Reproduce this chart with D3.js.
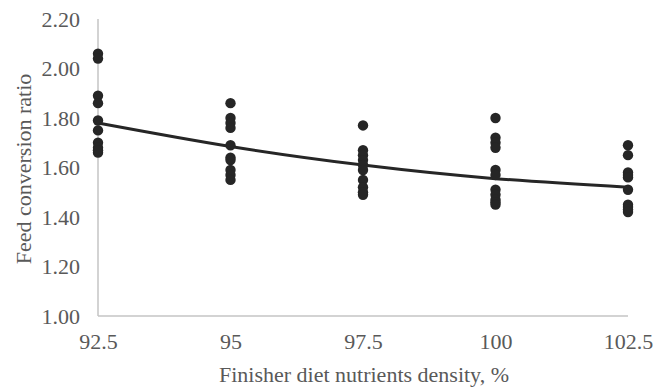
<!DOCTYPE html>
<html>
<head>
<meta charset="utf-8">
<script src="https://cdn.jsdelivr.net/npm/d3@7/dist/d3.min.js"></script>
</head>
<body style="margin:0; background:#fff">
<svg id="chart" width="656" height="389"></svg>
<script>
// data
var xTicks = [92.5, 95, 97.5, 100, 102.5];
var yTicks = [1.0, 1.2, 1.4, 1.6, 1.8, 2.0, 2.2];
var fcr925 = [2.06, 2.04, 1.89, 1.86, 1.79, 1.75, 1.70, 1.68, 1.66, 1.67];
var fcr95 = [1.86, 1.80, 1.78, 1.76, 1.69, 1.64, 1.63, 1.59, 1.57, 1.55];
var fcr975 = [1.77, 1.67, 1.65, 1.63, 1.61, 1.59, 1.55, 1.52, 1.50, 1.49];
var fcr100 = [1.80, 1.72, 1.70, 1.68, 1.59, 1.57, 1.51, 1.49, 1.47, 1.46, 1.45];
var fcr1025 = [1.69, 1.65, 1.58, 1.57, 1.56, 1.51, 1.45, 1.44, 1.43, 1.42];
var trend = [1.78, 1.685, 1.61, 1.555, 1.52];

var svg = d3.select("#chart");
var serif = "'Liberation Serif'";
var grey = "#595959";

var x = d3.scaleLinear()
    .domain([92.5, 102.5])
    .range([98, 628]);
var y = d3.scaleLinear()
    .domain([1, 2.2])
    .range([316, 19]);

// axis lines
svg.append("line")
    .attr("x1", x(92.5)).attr("x2", x(102.5))
    .attr("y1", y(1)).attr("y2", y(1))
    .attr("stroke", "#c4c4c4").attr("stroke-width", 1.5);
svg.append("line")
    .attr("x1", x(92.5)).attr("x2", x(92.5))
    .attr("y1", y(1)).attr("y2", y(2.2))
    .attr("stroke", "#c4c4c4").attr("stroke-width", 1.5);

// tick labels
var axisY = d3.axisLeft(y).tickValues(yTicks).tickFormat(d3.format(".2f")).tickSize(0).tickPadding(18);
var gy = svg.append("g").attr("transform", "translate(" + x(92.5) + ",0)").call(axisY);
gy.select(".domain").remove();
gy.selectAll("text")
    .style("font-family", serif).style("font-size", "22px").attr("fill", grey);

var axisX = d3.axisBottom(x).tickValues(xTicks).tickFormat(function(d){ return d; }).tickSize(0).tickPadding(17);
var gx = svg.append("g").attr("transform", "translate(0," + y(1) + ")").call(axisX);
gx.select(".domain").remove();
gx.selectAll("text")
    .style("font-family", serif).style("font-size", "22px").attr("fill", grey);

// titles
svg.append("text")
    .attr("x", 364).attr("y", 382)
    .attr("text-anchor", "middle")
    .attr("fill", grey)
    .style("font-family", serif)
    .style("font-size", "22px")
    .text("Finisher diet nutrients density, %");
svg.append("text")
    .attr("transform", "translate(31,169) rotate(-90)")
    .attr("text-anchor", "middle")
    .attr("fill", grey)
    .style("font-family", serif)
    .style("font-size", "22px")
    .text("Feed conversion ratio");

// trend line
svg.append("path")
    .datum(trend)
    .attr("d", d3.line()
        .x(function(d, i){ return x(xTicks[i]); })
        .y(function(d){ return y(d); })
        .curve(d3.curveNatural))
    .attr("fill", "none")
    .attr("stroke", "#262626")
    .attr("stroke-width", 3);

// points
var groups = [fcr925, fcr95, fcr975, fcr100, fcr1025];
var pts = [];
groups.forEach(function(g, i){
    g.forEach(function(v){ pts.push({x: xTicks[i], y: v}); });
});
svg.selectAll("circle")
    .data(pts)
    .enter()
    .append("circle")
    .attr("cx", function(d){ return x(d.x); })
    .attr("cy", function(d){ return y(d.y); })
    .attr("r", 5.2)
    .attr("fill", "#262626");
</script>
</body>
</html>
